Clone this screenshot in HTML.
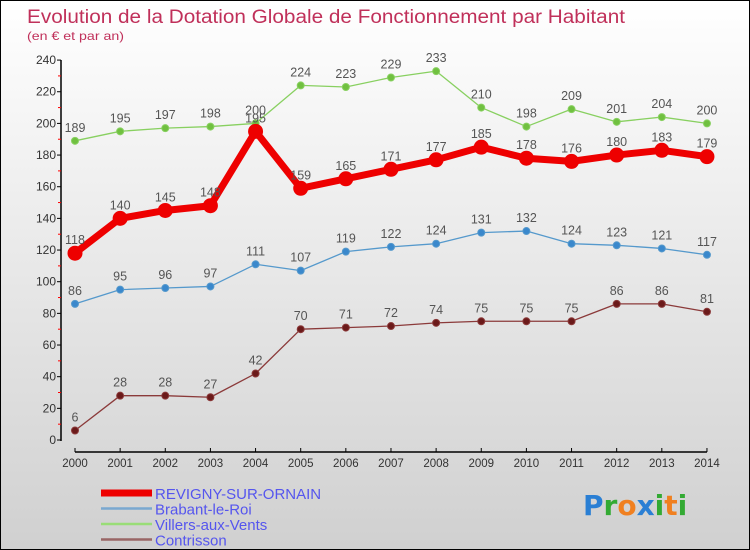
<!DOCTYPE html>
<html><head><meta charset="utf-8"><style>
body{margin:0}
#wrap{width:748px;height:548px;border:1px solid #000;background:linear-gradient(#ffffff,#d0d0d0);position:relative;overflow:hidden;font-family:"Liberation Sans",sans-serif}
</style></head><body>
<div id="wrap">
<svg id="svg" width="748" height="548"></svg>
</div>
<script>
const years=[2000,2001,2002,2003,2004,2005,2006,2007,2008,2009,2010,2011,2012,2013,2014];
const revigny=[118,140,145,148,195,159,165,171,177,185,178,176,180,183,179];
const brabant=[86,95,96,97,111,107,119,122,124,131,132,124,123,121,117];
const villers=[189,195,197,198,200,224,223,229,233,210,198,209,201,204,200];
const contrisson=[6,28,28,27,42,70,71,72,74,75,75,75,86,86,81];
const yTicks=[0,20,40,60,80,100,120,140,160,180,200,220,240];
const NS='http://www.w3.org/2000/svg';
const svg=document.getElementById('svg');
const X=i=>74+i*45.14;
const Y=v=>439-v*1.583;
function mk(t,a,p){const e=document.createElementNS(NS,t);for(const k in a)e.setAttribute(k,a[k]);(p||svg).appendChild(e);return e;}
let t=mk('text',{x:26,y:22,'font-size':19,fill:'#c0305a',textLength:598,lengthAdjust:'spacingAndGlyphs'});t.textContent='Evolution de la Dotation Globale de Fonctionnement par Habitant';

t=mk('text',{x:26,y:39,'font-size':12,fill:'#c0305a',textLength:97,lengthAdjust:'spacingAndGlyphs'});t.textContent='(en € et par an)';

let ax=mk('line',{x1:60,y1:59,x2:60,y2:440,stroke:'#000','stroke-width':1.5});

yTicks.forEach(v=>{mk('line',{x1:56,x2:60,y1:Y(v),y2:Y(v),stroke:'#000'});
 if(v<240)mk('line',{x1:57,x2:60,y1:Y(v+10),y2:Y(v+10),stroke:'#f00'});
 const l=mk('text',{x:55,y:Y(v)+4,'font-size':12,fill:'#333','text-anchor':'end'});l.textContent=v;
 });
ax=mk('line',{x1:X(0),y1:451,x2:X(14),y2:451,stroke:'#000','stroke-width':1.5});

years.forEach((y,i)=>{mk('line',{x1:X(i),x2:X(i),y1:447,y2:451,stroke:'#000'});
 const l=mk('text',{x:X(i),y:466,'font-size':11.5,fill:'#333','text-anchor':'middle'});l.textContent=y;
 });
function series(d,color,fill,w,r,name){
 const g=mk('g',{});
 mk('polyline',{points:d.map((v,i)=>X(i)+','+Y(v)).join(' '),fill:'none',stroke:color,'stroke-width':w,'stroke-linejoin':'round'},g);
 d.forEach((v,i)=>{const c=mk('circle',{cx:X(i),cy:Y(v),r:r,fill:fill,stroke:color,'stroke-width':1},g);
  
  const l=mk('text',{x:X(i),y:Y(v)-9,'font-size':12.5,fill:'#555','text-anchor':'middle'},g);l.textContent=v;
  });
}
series(contrisson,'#8b3a3a','#6b1a1a',1.3,3.5,'contrisson');
series(brabant,'#5599cc','#3a88cc',1.3,3.5,'brabant');
series(villers,'#88d060','#70c040',1.3,3.5,'villers');
series(revigny,'#ee0000','#ee0000',7,7,'revigny');
const leg=[['REVIGNY-SUR-ORNAIN','#ee0000',7],['Brabant-le-Roi','#7aa8d0',2.5],['Villers-aux-Vents','#99dd77',2.5],['Contrisson','#996666',2.5]];
leg.forEach((e,i)=>{const y=492+i*15.5;const g=mk('g',{});
 mk('line',{x1:100,x2:151,y1:y,y2:y,stroke:e[1],'stroke-width':e[2]},g);
 const l=mk('text',{x:154,y:y+6,'font-size':15,fill:'#5555ee'},g);l.textContent=e[0];});
const logo=mk('text',{x:582,y:514,'font-size':28,'font-family':'"DejaVu Sans",sans-serif','font-weight':'bold'});

[['P','#2a7fd4'],['r','#33aa33'],['o','#f08020'],['x','#2a7fd4'],['i','#33aa33'],['t','#f08020'],['i','#33aa33']].forEach(c=>{const s=mk('tspan',{fill:c[1]},logo);s.textContent=c[0];});
</script>
</body></html>
